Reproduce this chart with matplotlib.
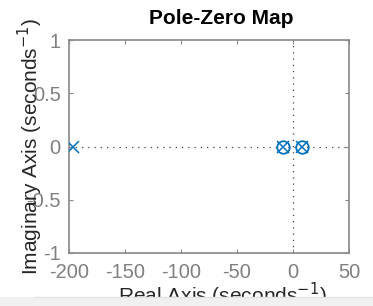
import matplotlib
matplotlib.use("Agg")
import matplotlib.pyplot as plt
from matplotlib.patches import Rectangle

plt.rcParams['font.family'] = ['Liberation Sans', 'DejaVu Sans']

# Data
pole_real = [-196, -9, 8]
pole_imag = [0, 0, 0]
zero_real = [-9, 8]
zero_imag = [0, 0]
xticks = [-200, -150, -100, -50, 0, 50]
yticks = [-1, -0.5, 0, 0.5, 1]
xlim = (-200, 50)
ylim = (-1, 1)

W, H = 373, 306
fig = plt.figure(figsize=(W / 100, H / 100), dpi=100)
fig.patch.set_facecolor('white')
L, R, T, B = 69, 349, 40, 253
ax = fig.add_axes([L / W, 1 - B / H, (R - L) / W, (B - T) / H])

blue = '#0072BD'
grid_c = '#404040'
ax.plot(xlim, [0, 0], linestyle=(0, (1, 4)), color=grid_c, lw=0.9, zorder=1)
ax.plot([0, 0], ylim, linestyle=(0, (1, 4)), color=grid_c, lw=0.9, zorder=1)
ax.plot(pole_real, pole_imag, linestyle='none', marker='x', color=blue,
        markersize=8, markeredgewidth=1.1, zorder=3)
ax.plot(zero_real, zero_imag, linestyle='none', marker='o', markerfacecolor='none',
        markeredgecolor=blue, markersize=9, markeredgewidth=1.3, zorder=3)

ax.set_xlim(*xlim)
ax.set_ylim(*ylim)
ax.set_xticks(xticks)
ax.set_yticks(yticks)
ax.set_xticklabels([str(v) for v in xticks])
ax.set_yticklabels(['-1', '-0.5', '0', '0.5', '1'])
tick_gray = '#808080'
ax.tick_params(direction='in', length=3, width=0.8, colors='#888888',
               labelcolor=tick_gray, labelsize=14.5, top=True, right=True)
ax.tick_params(axis='x', pad=7)
ax.tick_params(axis='y', pad=6)
for s in ax.spines.values():
    s.set_color('#888888')
    s.set_linewidth(1.2)

fig.text(221 / W, 1 - 19 / H, 'Pole-Zero Map', ha='center', va='center',
         fontsize=15, fontweight='bold', color='black')
fig.text(30 / W, 1 - 146 / H, 'Imaginary Axis (seconds$^{-1}$)', rotation=90,
         ha='center', va='center', fontsize=15, color='#262626')
fig.text(222 / W, 1 - 295 / H, 'Real Axis (seconds$^{-1}$)', ha='center',
         va='center', fontsize=15, color='#262626', zorder=1)

# bottom panel that clips the x label
fig.patches.append(Rectangle((0, 0), 1, 9 / H, transform=fig.transFigure,
                             facecolor='#f0f0f0', edgecolor='none', zorder=10))
fig.lines.append(plt.Line2D([35 / W, 1], [9 / H, 9 / H], transform=fig.transFigure,
                            color='#e2e2e2', lw=1, zorder=11))

fig.savefig('out.png', dpi=100, facecolor='white')
